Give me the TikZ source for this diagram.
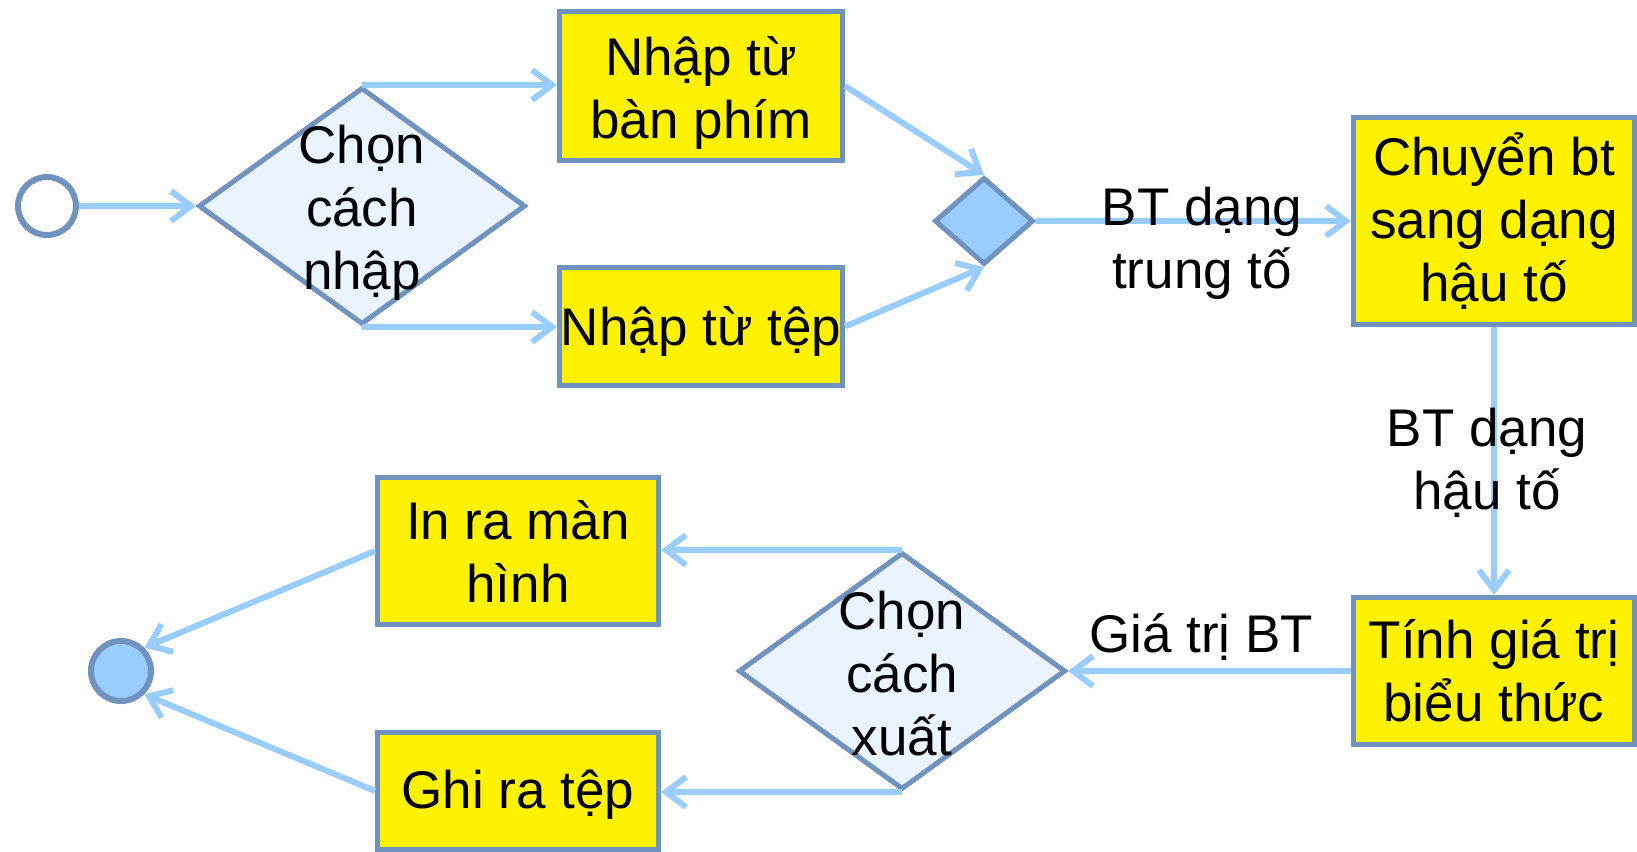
\documentclass[tikz,border=0pt]{standalone}
\usepackage{fontspec}
\setmainfont{Liberation Sans}
\usetikzlibrary{shapes.geometric,arrows.meta}
\definecolor{bord}{RGB}{112,146,190}
\definecolor{arr}{RGB}{153,204,255}
\definecolor{dfill}{RGB}{234,244,255}
\begin{document}
\begin{tikzpicture}[x=1pt,y=-1pt,
  box/.style={draw=bord,fill=yellow,line width=5pt,align=center,inner sep=0pt,font=\fontsize{53}{63}\selectfont},
  dia/.style={draw=bord,fill=dfill,line width=5pt,shape=diamond,inner sep=0pt,minimum width=327pt,minimum height=237pt},
  txt/.style={align=center,inner sep=0pt,font=\fontsize{53}{63}\selectfont},
  flow/.style={draw=arr,line width=6pt,-{Straight Barb[length=20pt,width=30pt]}}
]
\useasboundingbox (0,0) rectangle (1637,851);
% start / end
\node[circle,draw=bord,fill=white,line width=6pt,minimum size=58pt,inner sep=0pt] (s) at (47,206) {};
\node[circle,draw=bord,fill=arr,line width=6pt,minimum size=60pt,inner sep=0pt] (e) at (121,671) {};
% diamonds
\node[dia] (d1) at (362,206) {};
\node[txt] (d1t) at (362,213) {Chọn\\cách\\nhập};
\node[dia] (d2) at (902,671) {};
\node[txt] (d2t) at (902,674) {Chọn\\cách\\xuất};
\node[draw=bord,fill=arr,line width=5pt,shape=diamond,inner sep=0pt,minimum width=99pt,minimum height=87pt] (m) at (984,221) {};
% boxes
\node[box,minimum width=283pt,minimum height=149pt] (b1) at (701,86) {};
\node[txt] (b1t) at (701,93) {Nhập từ\\bàn phím};
\node[box,minimum width=283pt,minimum height=118pt] (b2) at (701,326.5) {};
\node[txt] (b2t) at (701,331) {Nhập từ tệp};
\node[box,minimum width=281pt,minimum height=207pt] (c) at (1494,221) {Chuyển bt\\sang dạng\\hậu tố};
\node[box,minimum width=281pt,minimum height=147pt] (t) at (1494,671) {Tính giá trị\\biểu thức};
\node[box,minimum width=281pt,minimum height=147pt] (o1) at (518,551) {In ra màn\\hình};
\node[box,minimum width=281pt,minimum height=117pt] (o2) at (518,791) {};
\node[txt] (o2t) at (518,795) {Ghi ra tệp};
% connectors
\draw[flow] (s.east) -- (d1.west);
\draw[flow] (d1.north) -- (d1.north -| b1.west);
\draw[flow] (d1.south) -- (d1.south -| b2.west);
\draw[flow] (b1.east) -- (m.north);
\draw[flow] (b2.east) -- (m.south);
\draw[flow] (m.east) -- (c.west);
\draw[flow] (c.south) -- (t.north);
\draw[flow] (t.west) -- (d2.east);
\draw[flow] (d2.north) -- (d2.north -| o1.east);
\draw[flow] (d2.south) -- (d2.south -| o2.east);
\draw[flow] (o1.west) -- (e.45);
\draw[flow] (o2.west) -- (e.-45);
% labels (on top of connectors)
\node[txt] (l1) at (1202,243) {BT dạng\\trung tố};
\node[txt] (l2) at (1487,463) {BT dạng\\hậu tố};
\node[txt] (l3) at (1201,637) {Giá trị BT};
\end{tikzpicture}
\end{document}
